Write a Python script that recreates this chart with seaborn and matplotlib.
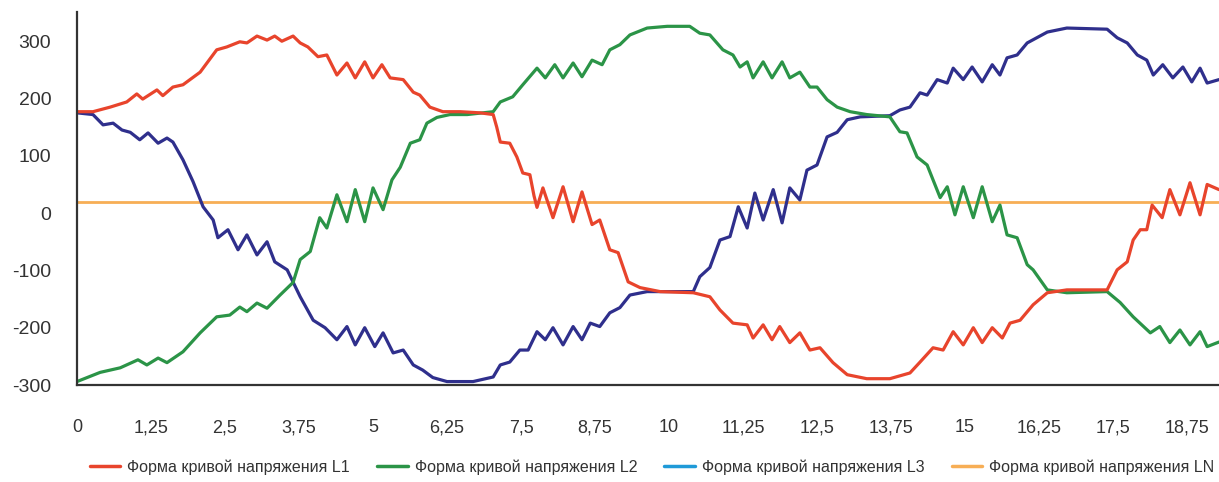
import matplotlib
matplotlib.use("Agg")
import matplotlib.pyplot as plt
from matplotlib.lines import Line2D
import seaborn as sns

# ---------------- data ----------------
L1_x = [0, 0.27, 0.56, 0.84, 1.01, 1.11, 1.35, 1.45, 1.62, 1.79, 2.08, 2.36, 2.53, 2.75, 2.87,
        3.04, 3.21, 3.34, 3.46, 3.65, 3.77, 3.90, 4.07, 4.22, 4.39, 4.56, 4.70, 4.86, 5.00, 5.15,
        5.29, 5.51, 5.68, 5.79, 5.96, 6.18, 6.47, 6.81, 7.03, 7.09, 7.15, 7.31, 7.43, 7.53, 7.65,
        7.72, 7.77, 7.87, 8.04, 8.21, 8.38, 8.53, 8.70, 8.83, 9.00, 9.14, 9.31, 9.51, 9.85, 10.41,
        10.69, 10.86, 11.08, 11.32, 11.42, 11.59, 11.74, 11.87, 12.04, 12.21, 12.38, 12.55, 12.77,
        13.01, 13.34, 13.73, 14.07, 14.24, 14.46, 14.63, 14.80, 14.97, 15.14, 15.29, 15.46, 15.63,
        15.76, 15.93, 16.15, 16.39, 16.72, 17.40, 17.57, 17.74, 17.84, 17.96, 18.07, 18.16, 18.33,
        18.46, 18.63, 18.80, 18.97, 19.09, 19.29]
L1_y = [177, 177, 185, 194, 208, 199, 215, 205, 220, 224, 246, 285, 290, 299, 297,
        309, 302, 309, 300, 309, 297, 290, 273, 276, 241, 262, 236, 264, 236, 259,
        236, 233, 211, 206, 185, 177, 177, 175, 172, 150, 124, 122, 98, 70, 67,
        30, 10, 44, -8, 46, -15, 37, -20, -12, -64, -69, -120, -130, -137, -139,
        -146, -169, -192, -195, -218, -195, -221, -198, -226, -209, -239, -235, -261,
        -282, -289, -289, -279, -260, -235, -239, -207, -230, -200, -226, -200, -218,
        -192, -187, -160, -139, -134, -134, -99, -85, -47, -29, -29, 14, -8,
        41, -3, 53, -3, 50, 41]

L2_x = [0, 0.39, 0.73, 1.03, 1.18, 1.37, 1.52, 1.79, 2.08, 2.36, 2.58, 2.75, 2.87, 3.04, 3.21,
        3.43, 3.65, 3.77, 3.94, 4.10, 4.22, 4.39, 4.56, 4.70, 4.86, 5.00, 5.17, 5.32, 5.46, 5.63,
        5.79, 5.91, 6.08, 6.30, 6.59, 7.03, 7.15, 7.36, 7.53, 7.77, 7.91, 8.07, 8.21, 8.38, 8.53,
        8.70, 8.87, 9.00, 9.17, 9.34, 9.63, 9.97, 10.35, 10.52, 10.69, 10.91, 11.08, 11.20, 11.32,
        11.42, 11.59, 11.74, 11.91, 12.04, 12.21, 12.38, 12.50, 12.67, 12.84, 13.06, 13.34, 13.73,
        13.90, 14.02, 14.19, 14.36, 14.46, 14.58, 14.70, 14.83, 14.97, 15.14, 15.29, 15.46, 15.59,
        15.71, 15.88, 16.05, 16.15, 16.39, 16.72, 17.40, 17.62, 17.84, 18.13, 18.29, 18.46, 18.63,
        18.80, 18.97, 19.09, 19.29]
L2_y = [-294, -278, -270, -256, -265, -253, -261, -242, -209, -181, -178, -164, -172, -157, -166,
        -143, -121, -81, -67, -8, -26, 32, -15, 41, -15, 44, 6, 58, 80, 122,
        128, 157, 167, 172, 172, 177, 194, 203, 224, 253, 236, 259, 236, 262, 238,
        267, 259, 285, 294, 311, 323, 326, 326, 314, 311, 285, 276, 255, 264,
        236, 264, 236, 264, 236, 246, 220, 220, 198, 185, 177, 172, 168,
        142, 140, 98, 84, 58, 27, 46, -3, 46, -8, 46, -15, 14,
        -38, -43, -90, -99, -134, -139, -137, -156, -181, -209, -198, -226, -204,
        -230, -207, -233, -225]

L3_x = [0, 0.27, 0.44, 0.61, 0.76, 0.90, 1.06, 1.20, 1.37, 1.52, 1.62, 1.79, 1.96, 2.13, 2.30,
        2.38, 2.55, 2.72, 2.87, 3.04, 3.21, 3.34, 3.55, 3.77, 3.99, 4.19, 4.39, 4.56, 4.70, 4.86,
        5.03, 5.17, 5.34, 5.51, 5.68, 5.84, 6.01, 6.25, 6.69, 7.03, 7.15, 7.31, 7.48, 7.62, 7.77,
        7.91, 8.04, 8.21, 8.38, 8.53, 8.67, 8.83, 9.00, 9.17, 9.34, 9.63, 10.41, 10.52, 10.69,
        10.86, 11.03, 11.17, 11.32, 11.45, 11.59, 11.76, 11.91, 12.04, 12.21, 12.33, 12.50, 12.67,
        12.84, 13.01, 13.23, 13.73, 13.90, 14.07, 14.24, 14.36, 14.53, 14.70, 14.80, 14.97, 15.12,
        15.29, 15.46, 15.59, 15.71, 15.88, 16.05, 16.39, 16.72, 17.40, 17.57, 17.74, 17.91, 18.07,
        18.18, 18.34, 18.51, 18.68, 18.83, 18.97, 19.09, 19.29]
L3_y = [175, 172, 154, 157, 145, 141, 128, 140, 122, 131, 124, 93, 55, 11, -12,
        -43, -29, -64, -38, -73, -50, -85, -99, -146, -187, -200, -221, -198, -230, -200,
        -233, -209, -244, -239, -265, -274, -287, -294, -294, -286, -265, -260, -239, -239, -207,
        -221, -200, -230, -198, -221, -192, -198, -174, -165, -143, -137, -137, -111, -95,
        -47, -41, 11, -26, 35, -12, 41, -17, 44, 23, 75, 84, 133,
        141, 163, 168, 170, 180, 185, 210, 206, 233, 227, 253, 233, 255,
        229, 259, 241, 271, 276, 297, 316, 323, 321, 306, 297, 276, 267,
        241, 259, 236, 255, 229, 253, 227, 233]

LN_x = [0, 19.29]
LN_y = [20, 20]

x_ticks = [0, 1.25, 2.5, 3.75, 5, 6.25, 7.5, 8.75, 10, 11.25, 12.5, 13.75, 15, 16.25, 17.5, 18.75]
x_tick_labels = ["0", "1,25", "2,5", "3,75", "5", "6,25", "7,5", "8,75", "10", "11,25",
                 "12,5", "13,75", "15", "16,25", "17,5", "18,75"]
y_ticks = [-300, -200, -100, 0, 100, 200, 300]
y_tick_labels = ["-300", "-200", "-100", "0", "100", "200", "300"]

legend_labels = ["Форма кривой напряжения L1", "Форма кривой напряжения L2",
                 "Форма кривой напряжения L3", "Форма кривой напряжения LN"]

# ---------------- style ----------------
sns.set_style("white")
plt.rcParams["font.family"] = ["Liberation Sans", "DejaVu Sans"]

C_L1 = "#e8442c"
C_L2 = "#2b9447"
C_L3 = "#2f2f8c"
C_L3_legend = "#1f9ad8"
C_LN = "#f7ae55"
AX_COLOR = "#333333"

fig = plt.figure(figsize=(12.19, 4.82), dpi=100)
ax = fig.add_axes([77 / 1219, 1 - 385 / 482, 1 - 77 / 1219, (385 - 12) / 482])

lw = 2.3
sns.lineplot(x=LN_x, y=LN_y, ax=ax, color=C_LN, lw=2.0, estimator=None, sort=False)
sns.lineplot(x=L3_x, y=L3_y, ax=ax, color=C_L3, lw=lw, estimator=None, sort=False)
sns.lineplot(x=L2_x, y=L2_y, ax=ax, color=C_L2, lw=lw, estimator=None, sort=False)
sns.lineplot(x=L1_x, y=L1_y, ax=ax, color=C_L1, lw=lw, estimator=None, sort=False)

ax.set_xlim(0, 19.29)
ax.set_ylim(-300, 351)
ax.set_xlabel("")
ax.set_ylabel("")

for s in ["top", "right"]:
    ax.spines[s].set_visible(False)
for s in ["left", "bottom"]:
    ax.spines[s].set_color(AX_COLOR)
    ax.spines[s].set_linewidth(1.6)

ax.set_xticks(x_ticks)
ax.set_xticklabels(x_tick_labels, fontsize=13, color=AX_COLOR)
ax.set_yticks(y_ticks)
ax.set_yticklabels(y_tick_labels, fontsize=14, color=AX_COLOR)
ax.tick_params(axis="x", length=14.5, width=1, color="#777777", pad=10, direction="out")
ax.tick_params(axis="y", length=13.5, width=1, color="#777777", pad=5, direction="out")
ax.grid(False)

handles = [Line2D([0], [0], color=c, lw=2.5) for c in [C_L1, C_L2, C_L3_legend, C_LN]]
fig.legend(handles, legend_labels, loc="center", bbox_to_anchor=(0.535, 1 - 467 / 482),
           ncol=4, frameon=False, handlelength=1.9, handletextpad=0.45, columnspacing=1.7,
           prop={"size": 11.5}, labelcolor=AX_COLOR)

fig.savefig("out.png", dpi=100)
